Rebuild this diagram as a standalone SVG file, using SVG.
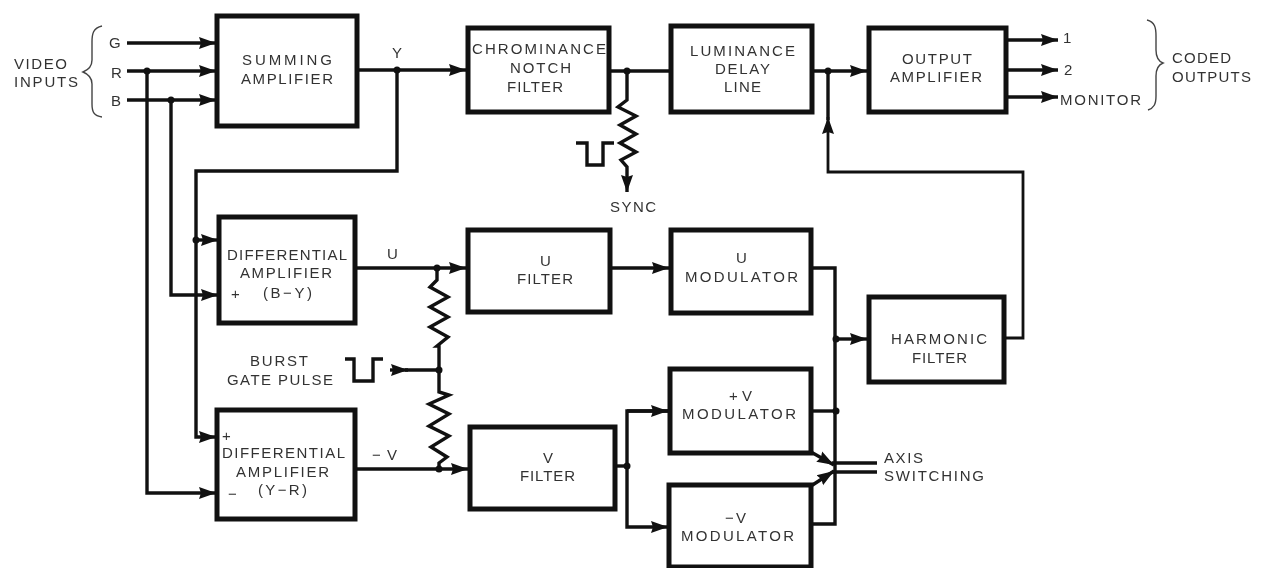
<svg xmlns="http://www.w3.org/2000/svg" width="1263" height="568" viewBox="0 0 1263 568">
<style>
.box{fill:#fff;stroke:#111;stroke-width:5}
.w{fill:none;stroke:#111;stroke-width:3.4;stroke-linejoin:miter}
.wt{fill:none;stroke:#111;stroke-width:2.8}
.br{fill:none;stroke:#444;stroke-width:1.4}
.d{fill:#111}
text{font-family:"Liberation Sans",Arial,sans-serif;font-size:15px;fill:#333;filter:url(#soft)}
</style>
<defs>
<filter id="soft" x="-10%" y="-30%" width="120%" height="160%"><feGaussianBlur stdDeviation="0.5"/></filter>
<marker id="a" markerUnits="userSpaceOnUse" markerWidth="18" markerHeight="14" refX="17" refY="7" orient="auto"><path d="M0 1L17 7L0 13L2 7Z" fill="#111"/></marker>
</defs>
<rect width="1263" height="568" fill="#fff"/>
<g id="connectors">
<path class="w" d="M127 43H216" marker-end="url(#a)"/>
<path class="w" d="M127 71H216" marker-end="url(#a)"/>
<path class="w" d="M127 100H216" marker-end="url(#a)"/>
<path class="w" d="M147 71V493H216" marker-end="url(#a)"/>
<path class="w" d="M171 100V295H218" marker-end="url(#a)"/>
<path class="w" d="M357 70H466" marker-end="url(#a)"/>
<path class="w" d="M397 70V171H196V437H216" marker-end="url(#a)"/>
<path class="w" d="M196 240H218" marker-end="url(#a)"/>
<path class="w" d="M355 268H466" marker-end="url(#a)"/>
<path class="w" d="M355 469H468" marker-end="url(#a)"/>
<path class="w" d="M610 71H671"/>
<path class="w" d="M627 71V100L618 107L636 116L620 125L636 134L620 143L636 152L621 160L627 167V192" marker-end="url(#a)"/>
<path class="w" d="M576 143H587V165H603V143H614"/>
<path class="w" d="M812 71H867" marker-end="url(#a)"/>
<path class="wt" d="M1005 338H1023V172H828V117" marker-end="url(#a)"/>
<path class="w" d="M828 120V71"/>
<path class="w" d="M1006 40H1058" marker-end="url(#a)"/>
<path class="w" d="M1006 70H1058" marker-end="url(#a)"/>
<path class="w" d="M1006 97H1058" marker-end="url(#a)"/>
<path class="w" d="M610 268H669" marker-end="url(#a)"/>
<path class="w" d="M811 268H835V524H813"/>
<path class="w" d="M813 411H835"/>
<path class="w" d="M835 339H867" marker-end="url(#a)"/>
<path class="w" d="M616 466H627"/>
<path class="w" d="M668 411H627V527H668" marker-end="url(#a)"/>
<path class="w" d="M627 411H668" marker-end="url(#a)"/>
<path class="w" d="M437 268V280L430 287L448 297L430 307L448 317L430 327L448 337L437 346H439V392L449 395L429 404L449 414L429 426L449 436L431 447L447 457L439 463V469"/>
<path class="w" d="M390 370H408" marker-end="url(#a)"/>
<path class="w" d="M405 370H439"/>
<path class="w" d="M345 359H354V381H373V359H383"/>
<path class="w" d="M811 452L834 465" marker-end="url(#a)"/>
<path class="w" d="M811 486L834 471" marker-end="url(#a)"/>
<path class="w" d="M832 463H877"/>
<path class="w" d="M832 472H877"/>
<path class="br" d="M102 26C93 28 92 34 92 42V60C92 66 88 70 83 72C88 74 92 78 92 84V104C92 112 94 116 102 117"/>
<path class="br" d="M1147 20C1155 22 1156 28 1156 36V50C1156 57 1158 61 1163 63C1158 65 1156 69 1156 76V96C1156 104 1154 108 1148 110"/>
<circle class="d" cx="147" cy="71" r="3.5"/><circle class="d" cx="171" cy="100" r="3.5"/><circle class="d" cx="397" cy="70" r="3.5"/><circle class="d" cx="196" cy="240" r="3.5"/><circle class="d" cx="437" cy="268" r="3.5"/><circle class="d" cx="439" cy="370" r="3.5"/><circle class="d" cx="439" cy="469" r="3.5"/><circle class="d" cx="627" cy="71" r="3.5"/><circle class="d" cx="828" cy="71" r="3.5"/><circle class="d" cx="627" cy="466" r="3.5"/><circle class="d" cx="836" cy="411" r="3.5"/><circle class="d" cx="836" cy="339" r="3.5"/>
</g>
<g id="summing"><rect class="box" x="217" y="16" width="140" height="110"/><text x="242" y="65" textLength="90">SUMMING</text><text x="241" y="84" textLength="92">AMPLIFIER</text></g>
<g id="chrominance"><rect class="box" x="468" y="28" width="141" height="84"/><text x="472" y="54" textLength="134">CHROMINANCE</text><text x="510" y="73" textLength="61">NOTCH</text><text x="507" y="92" textLength="56">FILTER</text></g>
<g id="luminance"><rect class="box" x="671" y="26" width="141" height="86"/><text x="690" y="56" textLength="105">LUMINANCE</text><text x="715" y="74" textLength="55">DELAY</text><text x="724" y="92" textLength="37">LINE</text></g>
<g id="output"><rect class="box" x="869" y="28" width="137" height="84"/><text x="902" y="64" textLength="70">OUTPUT</text><text x="890" y="82" textLength="92">AMPLIFIER</text></g>
<g id="diff-u"><rect class="box" x="219" y="217" width="136" height="106"/><text x="227" y="260" textLength="120">DIFFERENTIAL</text><text x="240" y="278" textLength="92">AMPLIFIER</text><text x="231" y="299">+</text><text x="263" y="298" textLength="49">(B−Y)</text></g>
<g id="u-filter"><rect class="box" x="468" y="230" width="142" height="82"/><text x="540" y="266" textLength="10">U</text><text x="517" y="284" textLength="56">FILTER</text></g>
<g id="u-modulator"><rect class="box" x="671" y="230" width="140" height="83"/><text x="736" y="263" textLength="11">U</text><text x="685" y="282" textLength="113">MODULATOR</text></g>
<g id="harmonic"><rect class="box" x="869" y="297" width="135" height="85"/><text x="891" y="344" textLength="96">HARMONIC</text><text x="912" y="363" textLength="55">FILTER</text></g>
<g id="diff-v"><rect class="box" x="217" y="410" width="138" height="109"/><text x="222" y="441">+</text><text x="222" y="458" textLength="123">DIFFERENTIAL</text><text x="236" y="477" textLength="93">AMPLIFIER</text><text x="228" y="499">−</text><text x="258" y="495" textLength="49">(Y−R)</text></g>
<g id="v-filter"><rect class="box" x="470" y="427" width="145" height="82"/><text x="543" y="463" textLength="10">V</text><text x="520" y="481" textLength="55">FILTER</text></g>
<g id="plus-v"><rect class="box" x="670" y="369" width="141" height="84"/><text x="729" y="401" textLength="23">+V</text><text x="682" y="419" textLength="114">MODULATOR</text></g>
<g id="minus-v"><rect class="box" x="669" y="485" width="142" height="82"/><text x="725" y="523" textLength="21">−V</text><text x="681" y="541" textLength="113">MODULATOR</text></g>
<g id="labels">
<text x="14" y="69" textLength="53">VIDEO</text><text x="14" y="87" textLength="64">INPUTS</text>
<text x="109" y="48">G</text><text x="111" y="78">R</text><text x="111" y="106">B</text>
<text x="392" y="58">Y</text><text x="387" y="259" textLength="12">U</text><text x="372" y="460" textLength="25">−V</text>
<text x="250" y="366" textLength="58">BURST</text><text x="227" y="385" textLength="106">GATE PULSE</text>
<text x="610" y="212" textLength="46">SYNC</text>
<text x="1063" y="43">1</text><text x="1064" y="75">2</text><text x="1060" y="105" textLength="81">MONITOR</text>
<text x="1172" y="63" textLength="59">CODED</text><text x="1172" y="82" textLength="79">OUTPUTS</text>
<text x="884" y="463" textLength="39">AXIS</text><text x="884" y="481" textLength="100">SWITCHING</text>
</g>
</svg>
